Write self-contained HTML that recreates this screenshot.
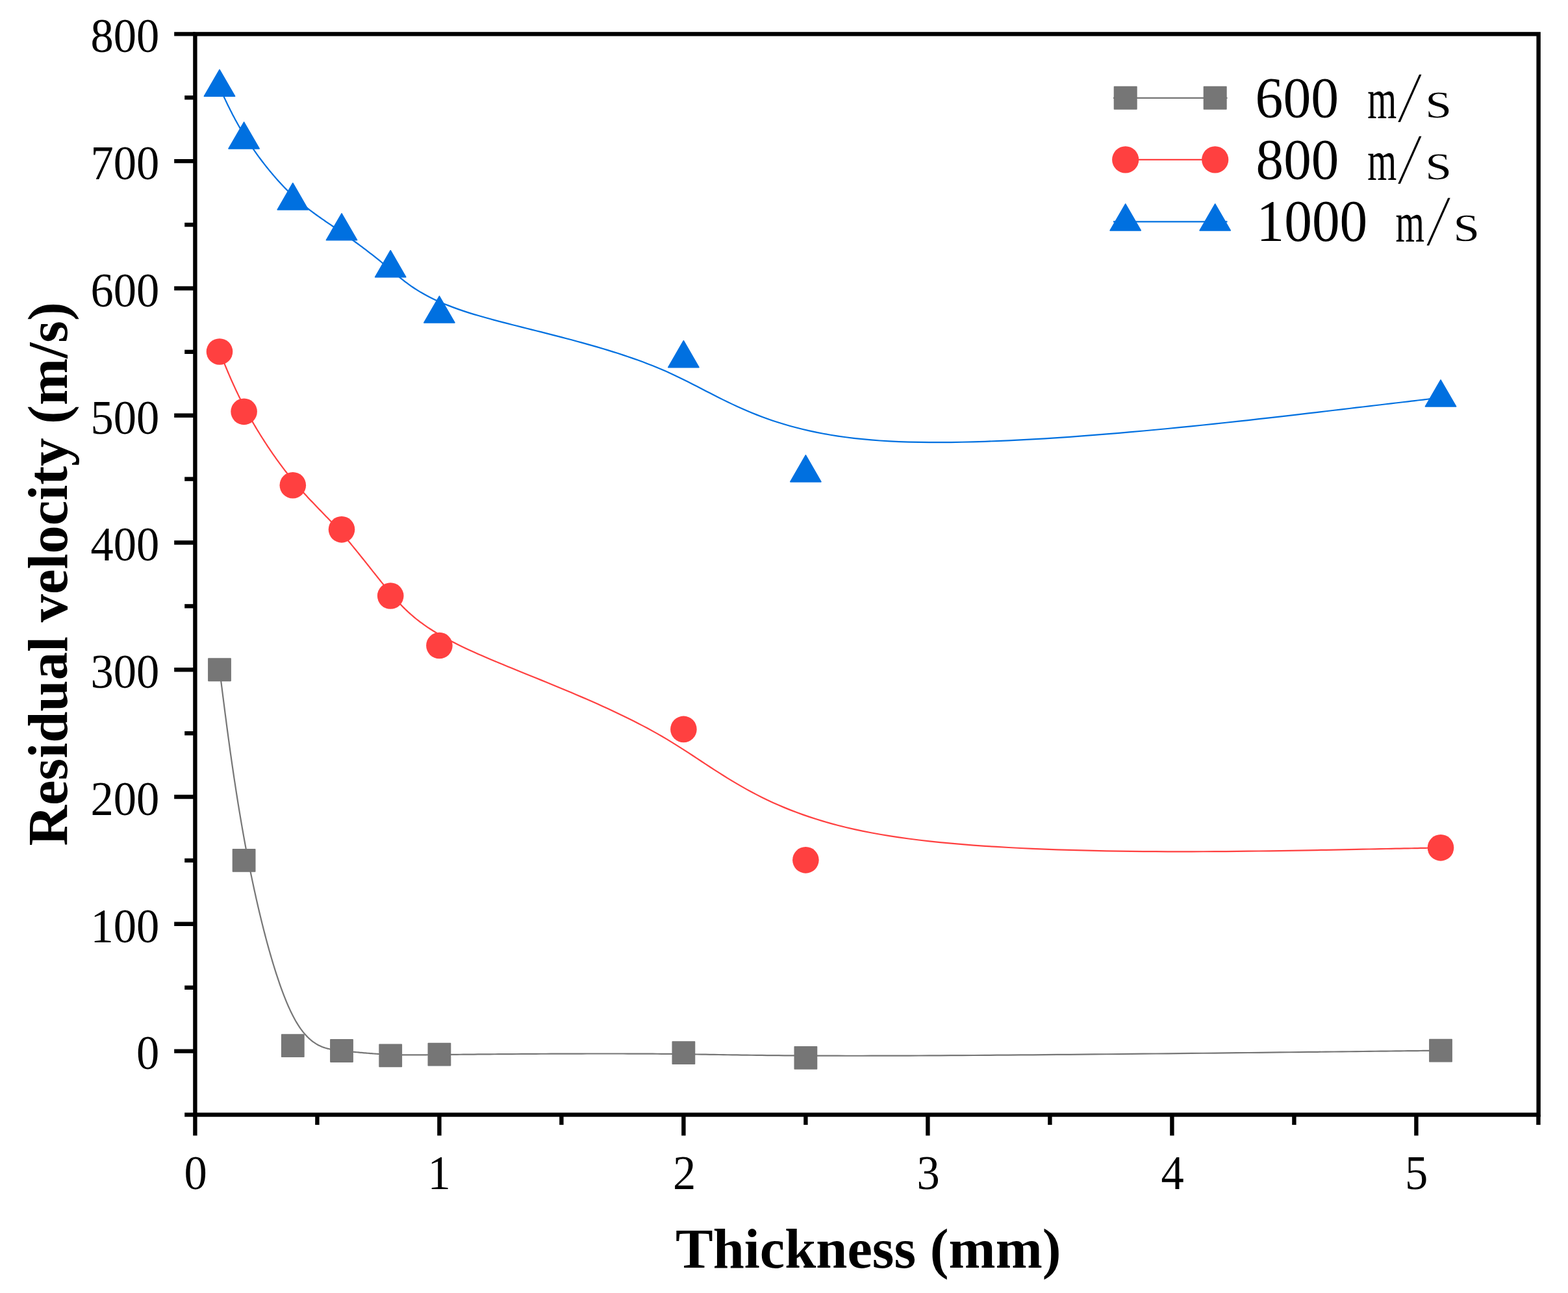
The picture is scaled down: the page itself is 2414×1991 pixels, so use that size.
<!DOCTYPE html>
<html><head><meta charset="utf-8"><style>
html,body{margin:0;padding:0;background:#fff;overflow:hidden;}
svg{display:block;}
</style></head><body>
<svg width="2414" height="1991" viewBox="0 0 2414 1991">
<rect width="2414" height="1991" fill="#fff"/>
<rect x="300.4" y="52.4" width="2068.2" height="1664.1" fill="none" stroke="#000" stroke-width="6.4"/>
<line x1="268.2" y1="1618.60" x2="300.4" y2="1618.60" stroke="#000" stroke-width="6.4"/>
<line x1="268.2" y1="1422.82" x2="300.4" y2="1422.82" stroke="#000" stroke-width="6.4"/>
<line x1="268.2" y1="1227.05" x2="300.4" y2="1227.05" stroke="#000" stroke-width="6.4"/>
<line x1="268.2" y1="1031.27" x2="300.4" y2="1031.27" stroke="#000" stroke-width="6.4"/>
<line x1="268.2" y1="835.50" x2="300.4" y2="835.50" stroke="#000" stroke-width="6.4"/>
<line x1="268.2" y1="639.72" x2="300.4" y2="639.72" stroke="#000" stroke-width="6.4"/>
<line x1="268.2" y1="443.94" x2="300.4" y2="443.94" stroke="#000" stroke-width="6.4"/>
<line x1="268.2" y1="248.17" x2="300.4" y2="248.17" stroke="#000" stroke-width="6.4"/>
<line x1="268.2" y1="52.39" x2="300.4" y2="52.39" stroke="#000" stroke-width="6.4"/>
<line x1="284.2" y1="1716.49" x2="300.4" y2="1716.49" stroke="#000" stroke-width="6.4"/>
<line x1="284.2" y1="1520.71" x2="300.4" y2="1520.71" stroke="#000" stroke-width="6.4"/>
<line x1="284.2" y1="1324.94" x2="300.4" y2="1324.94" stroke="#000" stroke-width="6.4"/>
<line x1="284.2" y1="1129.16" x2="300.4" y2="1129.16" stroke="#000" stroke-width="6.4"/>
<line x1="284.2" y1="933.38" x2="300.4" y2="933.38" stroke="#000" stroke-width="6.4"/>
<line x1="284.2" y1="737.61" x2="300.4" y2="737.61" stroke="#000" stroke-width="6.4"/>
<line x1="284.2" y1="541.83" x2="300.4" y2="541.83" stroke="#000" stroke-width="6.4"/>
<line x1="284.2" y1="346.06" x2="300.4" y2="346.06" stroke="#000" stroke-width="6.4"/>
<line x1="284.2" y1="150.28" x2="300.4" y2="150.28" stroke="#000" stroke-width="6.4"/>
<line x1="300.40" y1="1716.5" x2="300.40" y2="1748.6" stroke="#000" stroke-width="6.4"/>
<line x1="676.40" y1="1716.5" x2="676.40" y2="1748.6" stroke="#000" stroke-width="6.4"/>
<line x1="1052.40" y1="1716.5" x2="1052.40" y2="1748.6" stroke="#000" stroke-width="6.4"/>
<line x1="1428.40" y1="1716.5" x2="1428.40" y2="1748.6" stroke="#000" stroke-width="6.4"/>
<line x1="1804.40" y1="1716.5" x2="1804.40" y2="1748.6" stroke="#000" stroke-width="6.4"/>
<line x1="2180.40" y1="1716.5" x2="2180.40" y2="1748.6" stroke="#000" stroke-width="6.4"/>
<line x1="488.40" y1="1716.5" x2="488.40" y2="1732.1" stroke="#000" stroke-width="6.4"/>
<line x1="864.40" y1="1716.5" x2="864.40" y2="1732.1" stroke="#000" stroke-width="6.4"/>
<line x1="1240.40" y1="1716.5" x2="1240.40" y2="1732.1" stroke="#000" stroke-width="6.4"/>
<line x1="1616.40" y1="1716.5" x2="1616.40" y2="1732.1" stroke="#000" stroke-width="6.4"/>
<line x1="1992.40" y1="1716.5" x2="1992.40" y2="1732.1" stroke="#000" stroke-width="6.4"/>
<line x1="2368.40" y1="1716.5" x2="2368.40" y2="1732.1" stroke="#000" stroke-width="6.4"/>
<text transform="translate(209.96,1646.40) scale(0.9800,1.0340)" font-family="Liberation Serif, serif" font-size="72">0</text>
<text transform="translate(139.40,1450.62) scale(0.9800,1.0340)" font-family="Liberation Serif, serif" font-size="72">100</text>
<text transform="translate(139.40,1254.85) scale(0.9800,1.0340)" font-family="Liberation Serif, serif" font-size="72">200</text>
<text transform="translate(139.40,1059.07) scale(0.9800,1.0340)" font-family="Liberation Serif, serif" font-size="72">300</text>
<text transform="translate(139.40,863.29) scale(0.9800,1.0340)" font-family="Liberation Serif, serif" font-size="72">400</text>
<text transform="translate(139.40,667.52) scale(0.9800,1.0340)" font-family="Liberation Serif, serif" font-size="72">500</text>
<text transform="translate(139.40,471.74) scale(0.9800,1.0340)" font-family="Liberation Serif, serif" font-size="72">600</text>
<text transform="translate(139.40,275.97) scale(0.9800,1.0340)" font-family="Liberation Serif, serif" font-size="72">700</text>
<text transform="translate(139.40,80.19) scale(0.9800,1.0340)" font-family="Liberation Serif, serif" font-size="72">800</text>
<text transform="translate(283.56,1831.40) scale(0.9800,1.0255)" font-family="Liberation Serif, serif" font-size="72">0</text>
<text transform="translate(658.58,1831.40) scale(0.9800,1.0255)" font-family="Liberation Serif, serif" font-size="72">1</text>
<text transform="translate(1036.05,1831.40) scale(0.9800,1.0255)" font-family="Liberation Serif, serif" font-size="72">2</text>
<text transform="translate(1411.56,1831.40) scale(0.9800,1.0255)" font-family="Liberation Serif, serif" font-size="72">3</text>
<text transform="translate(1787.56,1831.40) scale(0.9800,1.0255)" font-family="Liberation Serif, serif" font-size="72">4</text>
<text transform="translate(2163.07,1831.40) scale(0.9800,1.0255)" font-family="Liberation Serif, serif" font-size="72">5</text>
<text transform="translate(1040.01,1951.7) scale(0.9943)" font-family="Liberation Serif, serif" font-weight="bold" font-size="87">Thickness (mm)</text>
<text transform="translate(102.9,1302.50) rotate(-90) scale(0.9958)" font-family="Liberation Serif, serif" font-weight="bold" font-size="87">Residual velocity (m/s)</text>
<path d="M338.00,1031.27 L338.00,1031.27 L338.00,1031.28 L338.00,1031.29 L338.01,1031.32 L338.01,1031.37 L338.02,1031.44 L338.03,1031.54 L338.05,1031.67 L338.07,1031.83 L338.10,1032.04 L338.13,1032.30 L338.17,1032.60 L338.22,1032.96 L338.27,1033.39 L338.33,1033.87 L338.40,1034.43 L338.48,1035.06 L338.58,1035.77 L338.68,1036.56 L338.79,1037.44 L338.91,1038.41 L339.05,1039.48 L339.20,1040.65 L339.36,1041.92 L339.54,1043.31 L339.73,1044.81 L339.94,1046.44 L340.17,1048.19 L340.41,1050.06 L340.66,1052.08 L340.94,1054.23 L341.23,1056.52 L341.55,1058.96 L341.88,1061.56 L342.23,1064.31 L342.60,1067.22 L343.00,1070.30 L343.41,1073.55 L343.85,1076.98 L344.31,1080.58 L344.80,1084.37 L345.31,1088.34 L345.84,1092.49 L346.40,1096.80 L346.98,1101.28 L347.58,1105.92 L348.21,1110.71 L348.86,1115.65 L349.53,1120.74 L350.23,1125.98 L350.95,1131.34 L351.70,1136.84 L352.47,1142.47 L353.26,1148.22 L354.07,1154.08 L354.91,1160.06 L355.78,1166.15 L356.66,1172.34 L357.57,1178.63 L358.51,1185.01 L359.47,1191.48 L360.45,1198.04 L361.45,1204.67 L362.48,1211.38 L363.53,1218.16 L364.61,1225.00 L365.71,1231.90 L366.83,1238.86 L367.98,1245.87 L369.15,1252.93 L370.34,1260.03 L371.56,1267.16 L372.80,1274.33 L374.07,1281.52 L375.35,1288.74 L376.67,1295.97 L378.00,1303.22 L379.36,1310.47 L380.74,1317.73 L382.15,1324.98 L383.58,1332.23 L385.03,1339.47 L386.51,1346.70 L388.00,1353.90 L389.52,1361.09 L391.06,1368.24 L392.62,1375.36 L394.20,1382.45 L395.79,1389.50 L397.41,1396.50 L399.04,1403.46 L400.69,1410.36 L402.36,1417.21 L404.04,1423.99 L405.73,1430.71 L407.45,1437.36 L409.17,1443.94 L410.91,1450.43 L412.66,1456.85 L414.43,1463.18 L416.20,1469.42 L417.99,1475.56 L419.78,1481.60 L421.59,1487.54 L423.41,1493.37 L425.23,1499.09 L427.07,1504.70 L428.91,1510.18 L430.75,1515.54 L432.61,1520.77 L434.47,1525.86 L436.33,1530.82 L438.20,1535.64 L440.08,1540.31 L441.95,1544.83 L443.83,1549.20 L445.71,1553.41 L447.60,1557.45 L449.48,1561.33 L451.37,1565.04 L453.25,1568.57 L455.13,1571.94 L457.02,1575.14 L458.90,1578.19 L460.79,1581.07 L462.67,1583.81 L464.56,1586.40 L466.44,1588.84 L468.33,1591.15 L470.21,1593.32 L472.10,1595.37 L473.98,1597.29 L475.87,1599.09 L477.75,1600.77 L479.64,1602.34 L481.52,1603.81 L483.41,1605.17 L485.29,1606.43 L487.17,1607.60 L489.06,1608.68 L490.94,1609.67 L492.83,1610.58 L494.71,1611.41 L496.60,1612.17 L498.48,1612.87 L500.37,1613.49 L502.25,1614.06 L504.14,1614.58 L506.02,1615.04 L507.91,1615.46 L509.79,1615.83 L511.68,1616.17 L513.56,1616.47 L515.45,1616.74 L517.33,1616.99 L519.22,1617.22 L521.10,1617.44 L522.98,1617.64 L524.87,1617.83 L526.75,1618.02 L528.64,1618.22 L530.52,1618.41 L532.41,1618.60 L534.29,1618.79 L536.18,1618.97 L538.06,1619.16 L539.95,1619.35 L541.83,1619.53 L543.72,1619.72 L545.60,1619.90 L547.49,1620.08 L549.37,1620.26 L551.26,1620.43 L553.14,1620.61 L555.02,1620.78 L556.91,1620.95 L558.79,1621.12 L560.68,1621.28 L562.56,1621.44 L564.45,1621.60 L566.33,1621.76 L568.22,1621.91 L570.10,1622.06 L571.99,1622.21 L573.87,1622.35 L575.76,1622.49 L577.64,1622.62 L579.53,1622.75 L581.41,1622.88 L583.30,1623.00 L585.18,1623.12 L587.06,1623.23 L588.95,1623.34 L590.83,1623.44 L592.72,1623.54 L594.60,1623.64 L596.49,1623.72 L598.37,1623.81 L600.26,1623.88 L602.14,1623.95 L604.03,1624.02 L605.92,1624.08 L607.83,1624.13 L609.75,1624.18 L611.70,1624.23 L613.67,1624.27 L615.67,1624.30 L617.70,1624.33 L619.78,1624.35 L621.90,1624.37 L624.07,1624.39 L626.30,1624.40 L628.59,1624.41 L630.93,1624.41 L633.35,1624.41 L635.84,1624.40 L638.41,1624.40 L641.06,1624.39 L643.80,1624.37 L646.64,1624.35 L649.57,1624.33 L652.60,1624.31 L655.73,1624.28 L658.98,1624.25 L662.35,1624.22 L665.83,1624.19 L669.44,1624.15 L673.18,1624.11 L677.06,1624.07 L681.08,1624.03 L685.24,1623.98 L689.55,1623.94 L694.01,1623.89 L698.63,1623.84 L703.42,1623.79 L708.37,1623.74 L713.50,1623.69 L718.80,1623.63 L724.29,1623.58 L729.96,1623.53 L735.82,1623.47 L741.85,1623.42 L748.05,1623.36 L754.42,1623.31 L760.93,1623.25 L767.60,1623.20 L774.40,1623.15 L781.33,1623.10 L788.38,1623.04 L795.55,1622.99 L802.83,1622.95 L810.21,1622.90 L817.68,1622.85 L825.23,1622.81 L832.86,1622.77 L840.56,1622.73 L848.32,1622.69 L856.13,1622.66 L863.99,1622.62 L871.89,1622.59 L879.81,1622.57 L887.76,1622.55 L895.73,1622.53 L903.70,1622.51 L911.68,1622.50 L919.64,1622.49 L927.59,1622.49 L935.51,1622.49 L943.41,1622.49 L951.26,1622.50 L959.07,1622.52 L966.83,1622.54 L974.52,1622.56 L982.14,1622.59 L989.69,1622.62 L997.15,1622.67 L1004.51,1622.71 L1011.78,1622.76 L1018.94,1622.82 L1025.99,1622.89 L1032.92,1622.96 L1039.77,1623.04 L1046.54,1623.12 L1053.25,1623.20 L1059.91,1623.30 L1066.54,1623.39 L1073.16,1623.49 L1079.78,1623.59 L1086.41,1623.69 L1093.07,1623.80 L1099.78,1623.90 L1106.56,1624.01 L1113.41,1624.12 L1120.35,1624.23 L1127.40,1624.34 L1134.58,1624.44 L1141.89,1624.55 L1149.36,1624.66 L1157.00,1624.76 L1164.82,1624.86 L1172.84,1624.95 L1181.08,1625.05 L1189.55,1625.14 L1198.27,1625.22 L1207.25,1625.30 L1216.50,1625.38 L1226.05,1625.45 L1235.91,1625.51 L1246.09,1625.56 L1256.61,1625.61 L1267.49,1625.66 L1278.73,1625.69 L1290.36,1625.71 L1302.39,1625.73 L1314.84,1625.73 L1327.71,1625.73 L1341.04,1625.72 L1354.82,1625.69 L1369.09,1625.66 L1383.84,1625.61 L1399.07,1625.55 L1414.74,1625.48 L1430.83,1625.40 L1447.31,1625.31 L1464.16,1625.21 L1481.33,1625.10 L1498.82,1624.98 L1516.58,1624.86 L1534.60,1624.72 L1552.83,1624.58 L1571.27,1624.43 L1589.87,1624.28 L1608.61,1624.12 L1627.46,1623.96 L1646.40,1623.79 L1665.40,1623.61 L1684.42,1623.43 L1703.44,1623.25 L1722.44,1623.07 L1741.38,1622.88 L1760.24,1622.69 L1778.99,1622.50 L1797.60,1622.31 L1816.04,1622.12 L1834.29,1621.93 L1852.32,1621.74 L1870.10,1621.55 L1887.60,1621.36 L1904.79,1621.17 L1921.65,1620.98 L1938.16,1620.80 L1954.27,1620.62 L1969.97,1620.45 L1985.22,1620.27 L2000.00,1620.11 L2014.28,1619.95 L2028.03,1619.79 L2041.23,1619.64 L2053.84,1619.50 L2065.85,1619.36 L2077.25,1619.23 L2088.07,1619.10 L2098.33,1618.99 L2108.02,1618.88 L2117.18,1618.77 L2125.82,1618.67 L2133.95,1618.58 L2141.59,1618.49 L2148.74,1618.41 L2155.44,1618.34 L2161.69,1618.26 L2167.51,1618.20 L2172.92,1618.14 L2177.92,1618.08 L2182.54,1618.03 L2186.79,1617.98 L2190.69,1617.93 L2194.25,1617.89 L2197.48,1617.86 L2200.41,1617.82 L2203.04,1617.79 L2205.40,1617.76 L2207.49,1617.74 L2209.34,1617.72 L2210.96,1617.70 L2212.36,1617.69 L2213.57,1617.67 L2214.59,1617.66 L2215.43,1617.65 L2216.13,1617.64 L2216.69,1617.64 L2217.12,1617.63 L2217.45,1617.63 L2217.68,1617.62 L2217.84,1617.62 L2217.93,1617.62 L2217.98,1617.62 L2218.00,1617.62 L2218.00,1617.62" fill="none" stroke="#767676" stroke-width="2.2" stroke-linejoin="round"/>
<path d="M338.00,541.44 L338.00,541.44 L338.00,541.44 L338.00,541.45 L338.01,541.46 L338.01,541.47 L338.02,541.49 L338.03,541.52 L338.05,541.56 L338.07,541.62 L338.10,541.68 L338.13,541.76 L338.17,541.86 L338.22,541.97 L338.27,542.11 L338.33,542.26 L338.40,542.43 L338.48,542.63 L338.58,542.85 L338.68,543.10 L338.79,543.38 L338.91,543.69 L339.05,544.02 L339.20,544.39 L339.36,544.79 L339.54,545.23 L339.73,545.70 L339.94,546.21 L340.17,546.76 L340.41,547.35 L340.66,547.99 L340.94,548.66 L341.23,549.39 L341.55,550.15 L341.88,550.97 L342.23,551.84 L342.60,552.75 L343.00,553.72 L343.41,554.74 L343.85,555.82 L344.31,556.96 L344.80,558.15 L345.31,559.40 L345.84,560.70 L346.40,562.06 L346.98,563.48 L347.58,564.94 L348.21,566.46 L348.86,568.03 L349.53,569.64 L350.23,571.30 L350.95,573.01 L351.70,574.77 L352.47,576.57 L353.26,578.41 L354.07,580.30 L354.91,582.23 L355.78,584.19 L356.66,586.20 L357.57,588.24 L358.51,590.32 L359.47,592.43 L360.45,594.58 L361.45,596.77 L362.48,598.98 L363.53,601.23 L364.61,603.50 L365.71,605.80 L366.83,608.14 L367.98,610.49 L369.15,612.88 L370.34,615.28 L371.56,617.72 L372.80,620.17 L374.07,622.64 L375.35,625.13 L376.67,627.65 L378.00,630.17 L379.36,632.72 L380.74,635.28 L382.15,637.85 L383.58,640.44 L385.03,643.04 L386.51,645.65 L388.00,648.27 L389.52,650.90 L391.06,653.54 L392.62,656.18 L394.20,658.83 L395.79,661.48 L397.41,664.14 L399.04,666.80 L400.69,669.46 L402.36,672.12 L404.04,674.78 L405.73,677.44 L407.45,680.10 L409.17,682.75 L410.91,685.40 L412.66,688.04 L414.43,690.68 L416.20,693.30 L417.99,695.92 L419.78,698.53 L421.59,701.13 L423.41,703.71 L425.23,706.29 L427.07,708.85 L428.91,711.39 L430.75,713.92 L432.61,716.43 L434.47,718.92 L436.33,721.39 L438.20,723.84 L440.08,726.27 L441.95,728.68 L443.83,731.06 L445.71,733.42 L447.60,735.76 L449.48,738.06 L451.37,740.34 L453.25,742.60 L455.13,744.82 L457.02,747.02 L458.90,749.20 L460.79,751.35 L462.67,753.48 L464.56,755.59 L466.44,757.68 L468.33,759.75 L470.21,761.81 L472.10,763.85 L473.98,765.88 L475.87,767.89 L477.75,769.89 L479.64,771.88 L481.52,773.86 L483.41,775.83 L485.29,777.80 L487.17,779.76 L489.06,781.72 L490.94,783.67 L492.83,785.62 L494.71,787.57 L496.60,789.53 L498.48,791.48 L500.37,793.44 L502.25,795.40 L504.14,797.36 L506.02,799.34 L507.91,801.32 L509.79,803.31 L511.68,805.31 L513.56,807.33 L515.45,809.35 L517.33,811.40 L519.22,813.45 L521.10,815.53 L522.98,817.62 L524.87,819.73 L526.75,821.86 L528.64,824.02 L530.52,826.19 L532.41,828.38 L534.29,830.59 L536.18,832.82 L538.06,835.07 L539.95,837.33 L541.83,839.60 L543.72,841.89 L545.60,844.19 L547.49,846.50 L549.37,848.82 L551.26,851.15 L553.14,853.49 L555.02,855.84 L556.91,858.20 L558.79,860.56 L560.68,862.93 L562.56,865.30 L564.45,867.67 L566.33,870.05 L568.22,872.43 L570.10,874.80 L571.99,877.18 L573.87,879.56 L575.76,881.93 L577.64,884.30 L579.53,886.67 L581.41,889.03 L583.30,891.38 L585.18,893.73 L587.06,896.07 L588.95,898.40 L590.83,900.71 L592.72,903.02 L594.60,905.32 L596.49,907.60 L598.37,909.87 L600.26,912.13 L602.14,914.37 L604.03,916.59 L605.92,918.80 L607.83,921.00 L609.75,923.19 L611.70,925.36 L613.67,927.53 L615.67,929.68 L617.70,931.83 L619.78,933.98 L621.90,936.12 L624.07,938.26 L626.30,940.39 L628.59,942.53 L630.93,944.66 L633.35,946.80 L635.84,948.94 L638.41,951.08 L641.06,953.23 L643.80,955.38 L646.64,957.55 L649.57,959.72 L652.60,961.90 L655.73,964.09 L658.98,966.30 L662.35,968.52 L665.83,970.76 L669.44,973.01 L673.18,975.28 L677.06,977.57 L681.08,979.88 L685.24,982.21 L689.55,984.56 L694.01,986.93 L698.63,989.34 L703.42,991.76 L708.37,994.22 L713.50,996.70 L718.80,999.22 L724.29,1001.76 L729.96,1004.34 L735.82,1006.95 L741.85,1009.59 L748.05,1012.27 L754.42,1014.98 L760.93,1017.72 L767.60,1020.50 L774.40,1023.32 L781.33,1026.17 L788.38,1029.05 L795.55,1031.97 L802.83,1034.93 L810.21,1037.93 L817.68,1040.96 L825.23,1044.03 L832.86,1047.13 L840.56,1050.28 L848.32,1053.46 L856.13,1056.68 L863.99,1059.94 L871.89,1063.24 L879.81,1066.57 L887.76,1069.95 L895.73,1073.37 L903.70,1076.83 L911.68,1080.32 L919.64,1083.86 L927.59,1087.45 L935.51,1091.07 L943.41,1094.73 L951.26,1098.44 L959.07,1102.19 L966.83,1105.98 L974.52,1109.82 L982.14,1113.70 L989.69,1117.62 L997.15,1121.59 L1004.51,1125.60 L1011.78,1129.66 L1018.94,1133.76 L1025.99,1137.91 L1032.92,1142.10 L1039.77,1146.33 L1046.54,1150.59 L1053.25,1154.88 L1059.91,1159.19 L1066.54,1163.52 L1073.16,1167.87 L1079.78,1172.23 L1086.41,1176.59 L1093.07,1180.96 L1099.78,1185.32 L1106.56,1189.67 L1113.41,1194.01 L1120.35,1198.33 L1127.40,1202.63 L1134.58,1206.90 L1141.89,1211.14 L1149.36,1215.34 L1157.00,1219.51 L1164.82,1223.63 L1172.84,1227.70 L1181.08,1231.71 L1189.55,1235.67 L1198.27,1239.56 L1207.25,1243.38 L1216.50,1247.13 L1226.05,1250.80 L1235.91,1254.39 L1246.09,1257.90 L1256.61,1261.31 L1267.49,1264.63 L1278.73,1267.84 L1290.36,1270.95 L1302.39,1273.95 L1314.84,1276.84 L1327.71,1279.61 L1341.04,1282.25 L1354.82,1284.77 L1369.09,1287.15 L1383.84,1289.39 L1399.07,1291.50 L1414.74,1293.48 L1430.83,1295.33 L1447.31,1297.06 L1464.16,1298.66 L1481.33,1300.15 L1498.82,1301.53 L1516.58,1302.80 L1534.60,1303.96 L1552.83,1305.02 L1571.27,1305.98 L1589.87,1306.85 L1608.61,1307.63 L1627.46,1308.32 L1646.40,1308.93 L1665.40,1309.46 L1684.42,1309.91 L1703.44,1310.30 L1722.44,1310.61 L1741.38,1310.87 L1760.24,1311.06 L1778.99,1311.20 L1797.60,1311.28 L1816.04,1311.31 L1834.29,1311.30 L1852.32,1311.25 L1870.10,1311.16 L1887.60,1311.04 L1904.79,1310.89 L1921.65,1310.71 L1938.16,1310.51 L1954.27,1310.29 L1969.97,1310.05 L1985.22,1309.81 L2000.00,1309.56 L2014.28,1309.30 L2028.03,1309.04 L2041.23,1308.79 L2053.84,1308.55 L2065.85,1308.31 L2077.25,1308.09 L2088.07,1307.88 L2098.33,1307.68 L2108.02,1307.49 L2117.18,1307.32 L2125.82,1307.15 L2133.95,1306.99 L2141.59,1306.84 L2148.74,1306.70 L2155.44,1306.57 L2161.69,1306.45 L2167.51,1306.34 L2172.92,1306.23 L2177.92,1306.14 L2182.54,1306.05 L2186.79,1305.96 L2190.69,1305.89 L2194.25,1305.82 L2197.48,1305.76 L2200.41,1305.70 L2203.04,1305.65 L2205.40,1305.60 L2207.49,1305.56 L2209.34,1305.53 L2210.96,1305.50 L2212.36,1305.47 L2213.57,1305.44 L2214.59,1305.42 L2215.43,1305.41 L2216.13,1305.39 L2216.69,1305.38 L2217.12,1305.38 L2217.45,1305.37 L2217.68,1305.36 L2217.84,1305.36 L2217.93,1305.36 L2217.98,1305.36 L2218.00,1305.36 L2218.00,1305.36" fill="none" stroke="#FF4040" stroke-width="2.2" stroke-linejoin="round"/>
<path d="M338.00,134.62 L338.00,134.62 L338.00,134.62 L338.00,134.62 L338.01,134.63 L338.01,134.64 L338.02,134.66 L338.03,134.69 L338.05,134.73 L338.07,134.77 L338.10,134.83 L338.13,134.90 L338.17,134.98 L338.22,135.08 L338.27,135.20 L338.33,135.33 L338.40,135.48 L338.48,135.66 L338.58,135.85 L338.68,136.07 L338.79,136.31 L338.91,136.58 L339.05,136.87 L339.20,137.19 L339.36,137.54 L339.54,137.92 L339.73,138.34 L339.94,138.78 L340.17,139.26 L340.41,139.78 L340.66,140.33 L340.94,140.92 L341.23,141.55 L341.55,142.22 L341.88,142.94 L342.23,143.69 L342.60,144.49 L343.00,145.34 L343.41,146.23 L343.85,147.17 L344.31,148.16 L344.80,149.20 L345.31,150.29 L345.84,151.43 L346.40,152.62 L346.98,153.85 L347.58,155.13 L348.21,156.45 L348.86,157.82 L349.53,159.22 L350.23,160.67 L350.95,162.16 L351.70,163.69 L352.47,165.25 L353.26,166.85 L354.07,168.49 L354.91,170.16 L355.78,171.87 L356.66,173.61 L357.57,175.38 L358.51,177.18 L359.47,179.01 L360.45,180.86 L361.45,182.75 L362.48,184.66 L363.53,186.60 L364.61,188.56 L365.71,190.54 L366.83,192.55 L367.98,194.57 L369.15,196.62 L370.34,198.68 L371.56,200.77 L372.80,202.86 L374.07,204.98 L375.35,207.11 L376.67,209.25 L378.00,211.41 L379.36,213.57 L380.74,215.75 L382.15,217.93 L383.58,220.13 L385.03,222.33 L386.51,224.54 L388.00,226.75 L389.52,228.97 L391.06,231.19 L392.62,233.41 L394.20,235.63 L395.79,237.86 L397.41,240.08 L399.04,242.31 L400.69,244.53 L402.36,246.75 L404.04,248.96 L405.73,251.17 L407.45,253.37 L409.17,255.57 L410.91,257.75 L412.66,259.93 L414.43,262.10 L416.20,264.26 L417.99,266.40 L419.78,268.54 L421.59,270.65 L423.41,272.76 L425.23,274.85 L427.07,276.92 L428.91,278.97 L430.75,281.01 L432.61,283.03 L434.47,285.02 L436.33,287.00 L438.20,288.95 L440.08,290.88 L441.95,292.79 L443.83,294.67 L445.71,296.52 L447.60,298.35 L449.48,300.14 L451.37,301.91 L453.25,303.65 L455.13,305.37 L457.02,307.05 L458.90,308.71 L460.79,310.34 L462.67,311.95 L464.56,313.53 L466.44,315.09 L468.33,316.63 L470.21,318.15 L472.10,319.64 L473.98,321.12 L475.87,322.58 L477.75,324.02 L479.64,325.45 L481.52,326.85 L483.41,328.25 L485.29,329.63 L487.17,330.99 L489.06,332.35 L490.94,333.69 L492.83,335.02 L494.71,336.35 L496.60,337.66 L498.48,338.97 L500.37,340.27 L502.25,341.56 L504.14,342.85 L506.02,344.13 L507.91,345.42 L509.79,346.70 L511.68,347.97 L513.56,349.25 L515.45,350.53 L517.33,351.81 L519.22,353.09 L521.10,354.38 L522.98,355.66 L524.87,356.96 L526.75,358.26 L528.64,359.56 L530.52,360.88 L532.41,362.20 L534.29,363.52 L536.18,364.85 L538.06,366.19 L539.95,367.54 L541.83,368.89 L543.72,370.25 L545.60,371.62 L547.49,372.99 L549.37,374.37 L551.26,375.75 L553.14,377.15 L555.02,378.55 L556.91,379.96 L558.79,381.37 L560.68,382.80 L562.56,384.23 L564.45,385.66 L566.33,387.11 L568.22,388.56 L570.10,390.02 L571.99,391.49 L573.87,392.96 L575.76,394.44 L577.64,395.93 L579.53,397.43 L581.41,398.94 L583.30,400.45 L585.18,401.97 L587.06,403.50 L588.95,405.04 L590.83,406.58 L592.72,408.14 L594.60,409.70 L596.49,411.27 L598.37,412.85 L600.26,414.43 L602.14,416.03 L604.03,417.63 L605.92,419.24 L607.83,420.86 L609.75,422.49 L611.70,424.12 L613.67,425.76 L615.67,427.41 L617.70,429.06 L619.78,430.72 L621.90,432.39 L624.07,434.06 L626.30,435.74 L628.59,437.42 L630.93,439.11 L633.35,440.81 L635.84,442.51 L638.41,444.21 L641.06,445.92 L643.80,447.63 L646.64,449.34 L649.57,451.06 L652.60,452.78 L655.73,454.51 L658.98,456.24 L662.35,457.97 L665.83,459.70 L669.44,461.43 L673.18,463.17 L677.06,464.91 L681.08,466.65 L685.24,468.39 L689.55,470.13 L694.01,471.88 L698.63,473.62 L703.42,475.36 L708.37,477.11 L713.50,478.85 L718.80,480.59 L724.29,482.34 L729.96,484.08 L735.82,485.82 L741.85,487.56 L748.05,489.31 L754.42,491.06 L760.93,492.82 L767.60,494.59 L774.40,496.37 L781.33,498.16 L788.38,499.96 L795.55,501.78 L802.83,503.62 L810.21,505.48 L817.68,507.35 L825.23,509.25 L832.86,511.17 L840.56,513.12 L848.32,515.10 L856.13,517.10 L863.99,519.14 L871.89,521.21 L879.81,523.31 L887.76,525.45 L895.73,527.63 L903.70,529.85 L911.68,532.10 L919.64,534.40 L927.59,536.75 L935.51,539.14 L943.41,541.58 L951.26,544.07 L959.07,546.61 L966.83,549.21 L974.52,551.86 L982.14,554.57 L989.69,557.33 L997.15,560.16 L1004.51,563.04 L1011.78,565.99 L1018.94,569.01 L1025.99,572.09 L1032.92,575.24 L1039.77,578.44 L1046.54,581.69 L1053.25,584.99 L1059.91,588.32 L1066.54,591.69 L1073.16,595.08 L1079.78,598.49 L1086.41,601.92 L1093.07,605.35 L1099.78,608.78 L1106.56,612.20 L1113.41,615.61 L1120.35,619.01 L1127.40,622.37 L1134.58,625.71 L1141.89,629.01 L1149.36,632.27 L1157.00,635.47 L1164.82,638.62 L1172.84,641.71 L1181.08,644.73 L1189.55,647.67 L1198.27,650.53 L1207.25,653.30 L1216.50,655.98 L1226.05,658.56 L1235.91,661.03 L1246.09,663.39 L1256.61,665.63 L1267.49,667.74 L1278.73,669.72 L1290.36,671.57 L1302.39,673.27 L1314.84,674.81 L1327.71,676.20 L1341.04,677.43 L1354.82,678.49 L1369.09,679.37 L1383.84,680.07 L1399.07,680.60 L1414.74,680.95 L1430.83,681.13 L1447.31,681.16 L1464.16,681.03 L1481.33,680.76 L1498.82,680.35 L1516.58,679.80 L1534.60,679.13 L1552.83,678.34 L1571.27,677.43 L1589.87,676.41 L1608.61,675.30 L1627.46,674.09 L1646.40,672.79 L1665.40,671.41 L1684.42,669.95 L1703.44,668.42 L1722.44,666.83 L1741.38,665.19 L1760.24,663.49 L1778.99,661.75 L1797.60,659.98 L1816.04,658.17 L1834.29,656.34 L1852.32,654.49 L1870.10,652.63 L1887.60,650.77 L1904.79,648.91 L1921.65,647.05 L1938.16,645.21 L1954.27,643.39 L1969.97,641.60 L1985.22,639.84 L2000.00,638.12 L2014.28,636.45 L2028.03,634.83 L2041.23,633.27 L2053.84,631.77 L2065.85,630.35 L2077.25,629.00 L2088.07,627.71 L2098.33,626.50 L2108.02,625.35 L2117.18,624.26 L2125.82,623.24 L2133.95,622.28 L2141.59,621.37 L2148.74,620.52 L2155.44,619.73 L2161.69,618.99 L2167.51,618.30 L2172.92,617.66 L2177.92,617.06 L2182.54,616.52 L2186.79,616.01 L2190.69,615.55 L2194.25,615.13 L2197.48,614.74 L2200.41,614.40 L2203.04,614.08 L2205.40,613.81 L2207.49,613.56 L2209.34,613.34 L2210.96,613.15 L2212.36,612.98 L2213.57,612.84 L2214.59,612.72 L2215.43,612.62 L2216.13,612.53 L2216.69,612.47 L2217.12,612.42 L2217.45,612.38 L2217.68,612.35 L2217.84,612.33 L2217.93,612.32 L2217.98,612.31 L2218.00,612.31 L2218.00,612.31" fill="none" stroke="#0070E0" stroke-width="2.2" stroke-linejoin="round"/>
<rect x="320.90" y="1014.17" width="34.20" height="34.20" fill="#767676" stroke="#767676" stroke-width="1.6" stroke-linejoin="round"/>
<rect x="358.50" y="1307.84" width="34.20" height="34.20" fill="#767676" stroke="#767676" stroke-width="1.6" stroke-linejoin="round"/>
<rect x="433.70" y="1593.08" width="34.20" height="34.20" fill="#767676" stroke="#767676" stroke-width="1.6" stroke-linejoin="round"/>
<rect x="508.90" y="1600.91" width="34.20" height="34.20" fill="#767676" stroke="#767676" stroke-width="1.6" stroke-linejoin="round"/>
<rect x="584.10" y="1608.35" width="34.20" height="34.20" fill="#767676" stroke="#767676" stroke-width="1.6" stroke-linejoin="round"/>
<rect x="659.30" y="1606.59" width="34.20" height="34.20" fill="#767676" stroke="#767676" stroke-width="1.6" stroke-linejoin="round"/>
<rect x="1035.30" y="1604.05" width="34.20" height="34.20" fill="#767676" stroke="#767676" stroke-width="1.6" stroke-linejoin="round"/>
<rect x="1223.30" y="1611.68" width="34.20" height="34.20" fill="#767676" stroke="#767676" stroke-width="1.6" stroke-linejoin="round"/>
<rect x="2200.90" y="1600.52" width="34.20" height="34.20" fill="#767676" stroke="#767676" stroke-width="1.6" stroke-linejoin="round"/>
<circle cx="338.00" cy="541.44" r="20.3" fill="#FF4040"/>
<circle cx="375.60" cy="633.85" r="20.3" fill="#FF4040"/>
<circle cx="450.80" cy="747.20" r="20.3" fill="#FF4040"/>
<circle cx="526.00" cy="815.33" r="20.3" fill="#FF4040"/>
<circle cx="601.20" cy="917.53" r="20.3" fill="#FF4040"/>
<circle cx="676.40" cy="994.07" r="20.3" fill="#FF4040"/>
<circle cx="1052.40" cy="1122.90" r="20.3" fill="#FF4040"/>
<circle cx="1240.40" cy="1324.35" r="20.3" fill="#FF4040"/>
<circle cx="2218.00" cy="1305.36" r="20.3" fill="#FF4040"/>
<polygon points="338.00,107.37 361.60,148.24 314.40,148.24" fill="#0070E0" stroke="#0070E0" stroke-width="1.6" stroke-linejoin="round"/>
<polygon points="375.60,188.03 399.20,228.90 352.00,228.90" fill="#0070E0" stroke="#0070E0" stroke-width="1.6" stroke-linejoin="round"/>
<polygon points="450.80,282.00 474.40,322.88 427.20,322.88" fill="#0070E0" stroke="#0070E0" stroke-width="1.6" stroke-linejoin="round"/>
<polygon points="526.00,328.79 549.60,369.67 502.40,369.67" fill="#0070E0" stroke="#0070E0" stroke-width="1.6" stroke-linejoin="round"/>
<polygon points="601.20,385.76 624.80,426.64 577.60,426.64" fill="#0070E0" stroke="#0070E0" stroke-width="1.6" stroke-linejoin="round"/>
<polygon points="676.40,456.04 700.00,496.92 652.80,496.92" fill="#0070E0" stroke="#0070E0" stroke-width="1.6" stroke-linejoin="round"/>
<polygon points="1052.40,524.76 1076.00,565.64 1028.80,565.64" fill="#0070E0" stroke="#0070E0" stroke-width="1.6" stroke-linejoin="round"/>
<polygon points="1240.40,700.96 1264.00,741.84 1216.80,741.84" fill="#0070E0" stroke="#0070E0" stroke-width="1.6" stroke-linejoin="round"/>
<polygon points="2218.00,585.06 2241.60,625.94 2194.40,625.94" fill="#0070E0" stroke="#0070E0" stroke-width="1.6" stroke-linejoin="round"/>
<line x1="1714" y1="150.8" x2="1889.5" y2="150.8" stroke="#767676" stroke-width="2.2"/>
<rect x="1715.50" y="133.60" width="34.40" height="34.40" fill="#767676" stroke="#767676" stroke-width="1.6" stroke-linejoin="round"/>
<rect x="1853.50" y="133.60" width="34.40" height="34.40" fill="#767676" stroke="#767676" stroke-width="1.6" stroke-linejoin="round"/>
<line x1="1714" y1="245.9" x2="1889.5" y2="245.9" stroke="#FF4040" stroke-width="2.2"/>
<circle cx="1732.70" cy="245.90" r="20.6" fill="#FF4040"/>
<circle cx="1870.70" cy="245.90" r="20.6" fill="#FF4040"/>
<line x1="1714" y1="341.3" x2="1889.5" y2="341.3" stroke="#0070E0" stroke-width="2.2"/>
<polygon points="1732.70,314.05 1756.30,354.93 1709.10,354.93" fill="#0070E0" stroke="#0070E0" stroke-width="1.6" stroke-linejoin="round"/>
<polygon points="1870.70,314.05 1894.30,354.93 1847.10,354.93" fill="#0070E0" stroke="#0070E0" stroke-width="1.6" stroke-linejoin="round"/>
<text transform="translate(1932.60,180.19) scale(0.9744,1.0051)" font-family="Liberation Serif, serif" font-size="88">600</text>
<text transform="translate(1933.60,275.19) scale(0.9667,1.0051)" font-family="Liberation Serif, serif" font-size="88">800</text>
<text transform="translate(1934.54,370.78) scale(0.9703,1.0237)" font-family="Liberation Serif, serif" font-size="88">1000</text>
<text transform="translate(2105.19,181.98) scale(0.6569,0.9756)" font-family="Liberation Serif, serif" font-size="88">m</text>
<text transform="matrix(0.7292,0,-0.2383,1.0958,2152.45,187.22)" font-family="Liberation Serif, serif" font-size="100">/</text>
<text transform="translate(2194.36,180.96) scale(1.1852,0.9442)" font-family="Liberation Serif, serif" font-size="88" stroke="#fff" stroke-width="1.323">s</text>
<text transform="translate(2105.19,276.98) scale(0.6569,0.9756)" font-family="Liberation Serif, serif" font-size="88">m</text>
<text transform="matrix(0.7292,0,-0.2383,1.0958,2152.45,282.22)" font-family="Liberation Serif, serif" font-size="100">/</text>
<text transform="translate(2194.36,275.96) scale(1.1852,0.9442)" font-family="Liberation Serif, serif" font-size="88" stroke="#fff" stroke-width="1.323">s</text>
<text transform="translate(2148.50,371.69) scale(0.6492,0.9878)" font-family="Liberation Serif, serif" font-size="88">m</text>
<text transform="matrix(0.7292,0,-0.2383,1.0958,2196.65,377.22)" font-family="Liberation Serif, serif" font-size="100">/</text>
<text transform="translate(2237.59,370.93) scale(1.1778,0.9674)" font-family="Liberation Serif, serif" font-size="88" stroke="#fff" stroke-width="1.312">s</text>
</svg>
</body></html>
